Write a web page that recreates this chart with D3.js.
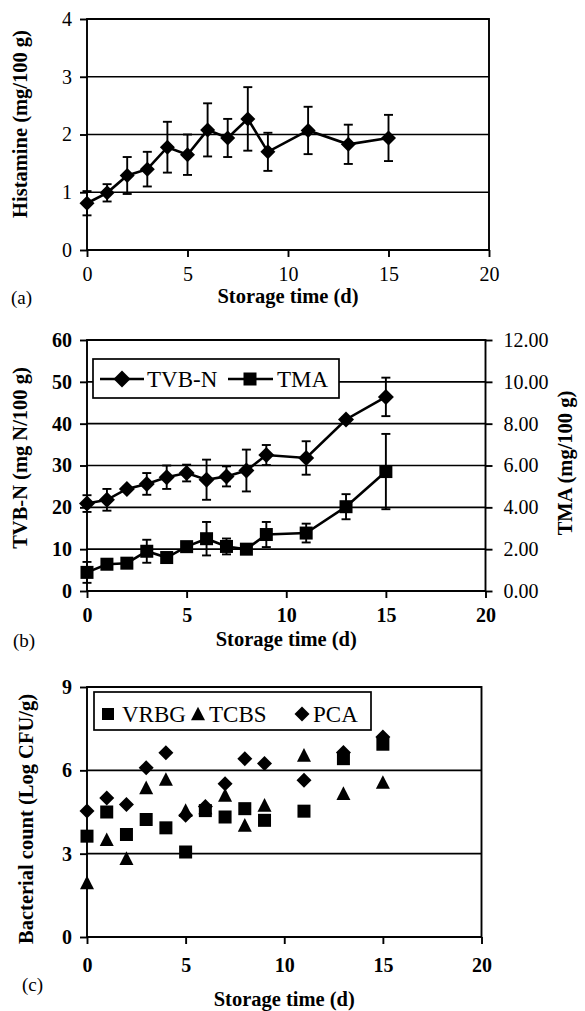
<!DOCTYPE html>
<html><head><meta charset="utf-8">
<script src="https://cdn.jsdelivr.net/npm/d3@7"></script>
<style>
body{margin:0;background:#fff;}
text{font-family:"Liberation Serif","Times New Roman",serif;fill:#000;}
</style></head>
<body>
<svg id="c" width="585" height="1011"></svg>
<script>
// ---- data ----
const days = [0,1,2,3,4,5,6,7,8,9,11,13,15];
const histamine    = [0.81,0.99,1.29,1.40,1.78,1.65,2.08,1.94,2.27,1.70,2.07,1.83,1.94];
const histamineErr = [0.21,0.15,0.32,0.30,0.44,0.35,0.46,0.33,0.55,0.33,0.41,0.34,0.40];
const tvbn    = [20.9,21.8,24.4,25.6,27.2,28.2,26.6,27.4,28.8,32.5,31.8,41.0,46.4];
const tvbnErr = [2.0,2.6,0.5,2.6,2.8,2.0,4.8,2.4,5.0,2.4,4.0,0.5,4.6];
const tma    = [0.89,1.28,1.33,1.90,1.60,2.12,2.50,2.13,2.00,2.70,2.77,4.03,5.71];
const tmaErr = [0.50,0.10,0.15,0.55,0.20,0.20,0.80,0.38,0.10,0.60,0.45,0.60,1.80];
const vrbg = [3.63,4.50,3.69,4.23,3.93,3.06,4.55,4.32,4.62,4.20,4.53,6.42,6.94];
const tcbs = [1.95,3.50,2.82,5.37,5.67,4.55,4.65,5.10,4.02,4.74,6.54,5.16,5.56];
const pca  = [4.54,5.00,4.77,6.09,6.63,4.38,4.70,5.52,6.42,6.25,5.64,6.64,7.20];
const xTicks = [0,5,10,15,20];
const histTicks = [0,1,2,3,4];
const tvbnTicks = [0,10,20,30,40,50,60];
const tmaTicks = [0,2,4,6,8,10,12];
const bactTicks = [0,3,6,9];

const svg = d3.select("#c");

function panel(o){
  const g = svg.append("g");
  const x = d3.scaleLinear().domain([0,20]).range([o.x0,o.x1]);
  const y = d3.scaleLinear().domain(o.yDom).range([o.yB,o.yT]);
  g.selectAll("line.grid").data(o.yTicks).enter().append("line")
    .attr("x1",o.x0).attr("x2",o.x1).attr("y1",d=>y(d)).attr("y2",d=>y(d))
    .attr("stroke","#000").attr("stroke-width",1.7);
  g.append("rect").attr("x",o.x0).attr("y",o.yT).attr("width",o.x1-o.x0).attr("height",o.yB-o.yT)
    .attr("fill","none").attr("stroke","#000").attr("stroke-width",1.9);
  const ya = d3.axisLeft(y).tickValues(o.yTicks).tickSize(7).tickPadding(8).tickFormat(d3.format("d"));
  const yg = g.append("g").attr("transform",`translate(${o.x0},0)`).call(ya);
  yg.select(".domain").remove();
  yg.selectAll("line").attr("stroke","#000").attr("stroke-width",1.9);
  yg.selectAll("text").attr("font-size",20).attr("font-family","Liberation Serif").attr("font-weight",o.yBold?"bold":"normal");
  const xa = d3.axisBottom(x).tickValues(xTicks).tickSize(7).tickPadding(o.xPad);
  const xg = g.append("g").attr("transform",`translate(0,${o.yB})`).call(xa);
  xg.select(".domain").remove();
  xg.selectAll("line").attr("stroke","#000").attr("stroke-width",1.9);
  xg.selectAll("text").attr("font-size",20).attr("font-family","Liberation Serif").attr("font-weight",o.xBold?"bold":"normal");
  g.append("text").attr("x",(o.x0+o.x1)/2).attr("y",o.xTitleY).attr("text-anchor","middle")
    .attr("font-size",20.5).attr("font-weight","bold").text("Storage time (d)");
  g.append("text").attr("transform",`translate(${o.yTitleX},${o.yTitleC}) rotate(-90)`)
    .attr("text-anchor","middle").attr("font-size",20.5).attr("font-weight","bold").text(o.yTitle);
  g.append("text").attr("x",o.labX).attr("y",o.labY).attr("font-size",19).text(o.lab);
  return {g,x,y};
}

function diamond(g,cx,cy,r){
  g.append("path").attr("d",`M${cx},${cy-r}L${cx+r},${cy}L${cx},${cy+r}L${cx-r},${cy}Z`).attr("fill","#000");
}
function square(g,cx,cy,s){
  g.append("rect").attr("x",cx-s/2).attr("y",cy-s/2).attr("width",s).attr("height",s).attr("fill","#000");
}
function triangle(g,cx,cy,w){
  const h=w*0.9;
  g.append("path").attr("d",`M${cx},${cy-h/2-1}L${cx+w/2},${cy+h/2}L${cx-w/2},${cy+h/2}Z`).attr("fill","#000");
}
function errbars(g,x,y,vals,errs){
  vals.forEach((v,i)=>{
    const e=errs[i], cx=x(days[i]);
    g.append("line").attr("x1",cx).attr("x2",cx).attr("y1",y(v+e)).attr("y2",y(v-e)).attr("stroke","#000").attr("stroke-width",1.9);
    [v+e,v-e].forEach(t=>g.append("line").attr("x1",cx-4.5).attr("x2",cx+4.5).attr("y1",y(t)).attr("y2",y(t)).attr("stroke","#000").attr("stroke-width",1.9));
  });
}
function lineSeries(g,x,y,vals){
  g.append("path").datum(vals).attr("fill","none").attr("stroke","#000").attr("stroke-width",2.6)
    .attr("d",d3.line().x((d,i)=>x(days[i])).y(d=>y(d)));
}

// ---- panel (a) ----
const A = panel({x0:87,x1:489,yT:19,yB:250,yDom:[0,4],yTicks:histTicks,xPad:10,
  xTitleY:303,yTitleX:27,yTitleC:124,yTitle:"Histamine (mg/100 g)",lab:"(a)",labX:11,labY:304});
errbars(A.g,A.x,A.y,histamine,histamineErr);
lineSeries(A.g,A.x,A.y,histamine);
histamine.forEach((v,i)=>diamond(A.g,A.x(days[i]),A.y(v),7.5));

// ---- panel (b) ----
const B = panel({x0:87,x1:485.5,yT:340,yB:591,yDom:[0,60],yTicks:tvbnTicks,xPad:10,yBold:true,xBold:true,
  xTitleY:646,yTitleX:27,yTitleC:458,yTitle:"TVB-N (mg N/100 g)",lab:"(b)",labX:13,labY:647});
const yR = d3.scaleLinear().domain([0,12]).range([591,340]);
const ra = d3.axisRight(yR).tickValues(tmaTicks).tickSize(7).tickPadding(11).tickFormat(d3.format(".2f"));
const rg = B.g.append("g").attr("transform","translate(485.5,0)").call(ra);
rg.select(".domain").remove();
rg.selectAll("line").attr("stroke","#000").attr("stroke-width",1.9);
rg.selectAll("text").attr("font-size",20).attr("font-family","Liberation Serif");
B.g.append("text").attr("transform","translate(572,463) rotate(-90)").attr("text-anchor","middle")
  .attr("font-size",20.5).attr("font-weight","bold").text("TMA (mg/100 g)");
errbars(B.g,B.x,B.y,tvbn,tvbnErr);
lineSeries(B.g,B.x,B.y,tvbn);
tvbn.forEach((v,i)=>diamond(B.g,B.x(days[i]),B.y(v),8));
errbars(B.g,B.x,yR,tma,tmaErr);
lineSeries(B.g,B.x,yR,tma);
tma.forEach((v,i)=>square(B.g,B.x(days[i]),yR(v),13));
// legend b
B.g.append("rect").attr("x",93).attr("y",359).attr("width",246).attr("height",39).attr("fill","#fff").attr("stroke","#000").attr("stroke-width",1.7);
B.g.append("line").attr("x1",100).attr("x2",144).attr("y1",379).attr("y2",379).attr("stroke","#000").attr("stroke-width",2.6);
diamond(B.g,122,379,8.5);
B.g.append("text").attr("x",147).attr("y",387).attr("font-size",23).text("TVB-N");
B.g.append("line").attr("x1",228).attr("x2",273).attr("y1",379).attr("y2",379).attr("stroke","#000").attr("stroke-width",2.6);
square(B.g,250,379,13);
B.g.append("text").attr("x",277).attr("y",387).attr("font-size",23).text("TMA");

// ---- panel (c) ----
const C = panel({x0:87,x1:481.5,yT:687,yB:937,yDom:[0,9],yTicks:bactTicks,xPad:14,yBold:true,xBold:true,
  xTitleY:1006,yTitleX:33,yTitleC:819,yTitle:"Bacterial count (Log CFU/g)",lab:"(c)",labX:22,labY:991});
vrbg.forEach((v,i)=>square(C.g,C.x(days[i]),C.y(v),13));
tcbs.forEach((v,i)=>triangle(C.g,C.x(days[i]),C.y(v),14));
pca.forEach((v,i)=>diamond(C.g,C.x(days[i]),C.y(v),7.5));
// legend c
C.g.append("rect").attr("x",94).attr("y",692).attr("width",277).attr("height",38).attr("fill","#fff").attr("stroke","#000").attr("stroke-width",1.7);
square(C.g,108,714,12);
C.g.append("text").attr("x",122).attr("y",722).attr("font-size",23).text("VRBG");
triangle(C.g,198,714,14);
C.g.append("text").attr("x",209).attr("y",722).attr("font-size",23).text("TCBS");
diamond(C.g,302,714,7.5);
C.g.append("text").attr("x",313).attr("y",722).attr("font-size",23).text("PCA");
</script>
</body></html>
